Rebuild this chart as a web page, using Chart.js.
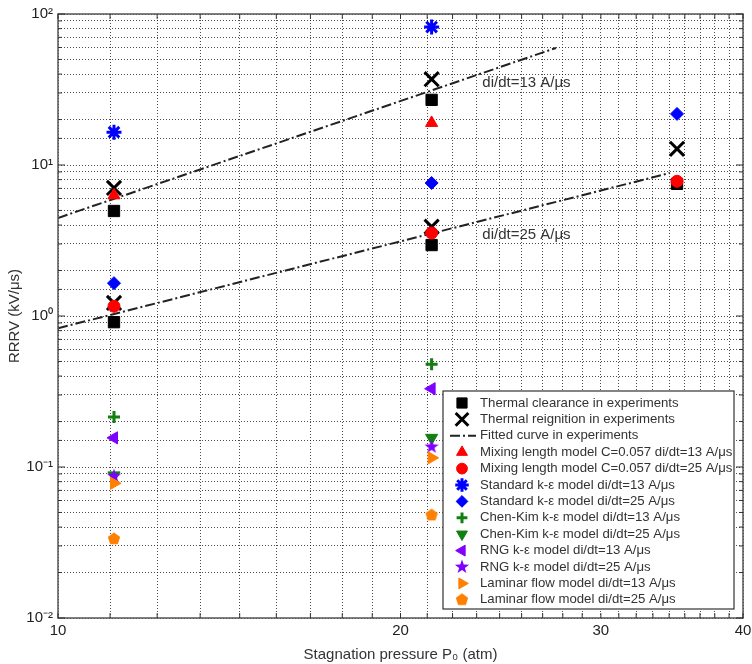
<!DOCTYPE html>
<html>
<head>
<meta charset="utf-8">
<script src="https://cdn.jsdelivr.net/npm/chart.js@4.4.0/dist/chart.umd.min.js"></script>
<style>
  html, body { margin: 0; padding: 0; background: #fff; overflow: hidden; }
  #wrap { width: 752px; height: 664px; }
</style>
</head>
<body>
<div id="wrap"><canvas id="RRRVChart"></canvas></div>
<script>
// Stagnation pressure (atm) of the three test groups
var pressure = [11.2, 21.3, 35];

// Experiments (RRRV in kV/us), null = no point
var clearance13 = [4.96, 27, null];
var clearance25 = [0.91, 2.95, 7.5];
var reignition13 = [7.05, 37, null];
var reignition25 = [1.22, 3.9, 12.8];

// Fitted curves, end points only (straight on log-log)
var fit13P = [10, 27.4];
var fit13V = [4.46, 59.6];
var fit25P = [10, 34.5];
var fit25V = [0.83, 8.85];

// Simulations
var mixing13 = [6.3, 19, null];
var mixing25 = [1.16, 3.55, 7.8];
var standard13 = [16.5, 82, null];
var standard25 = [1.65, 7.6, 21.8];
var chenKim13 = [0.214, 0.48, null];
var chenKim25 = [0.088, 0.156, null];
var rng13 = [0.156, 0.33, null];
var rng25 = [0.087, 0.136, null];
var laminar13 = [0.078, 0.115, null];
var laminar25 = [0.0334, 0.048, null];

// Tick labels
var xTickValues = [10, 20, 30, 40];
var yTickValues = [0.01, 0.1, 1, 10, 100];
var yTickText = ['10\u207B\u00B2', '10\u207B\u00B9', '10\u2070', '10\u00B9', '10\u00B2'];

// Text notes on the fitted curves
var noteText = ['di/dt=13 A/\u03BCs', 'di/dt=25 A/\u03BCs'];
var noteP = [23.6, 23.6];
var noteV = [34.9, 3.43];

var FONT = '"Liberation Sans", Arial, sans-serif';

function pts(xs, ys) {
  var out = [];
  for (var i = 0; i < xs.length; i++) {
    if (ys[i] !== null) out.push({ x: xs[i], y: ys[i] });
  }
  return out;
}

// custom marker images
function marker(size, draw) {
  var c = document.createElement('canvas');
  c.width = size; c.height = size;
  draw(c.getContext('2d'), size / 2);
  return c;
}
var star5 = marker(16, function (g, c) {
  g.fillStyle = '#7f00ff';
  g.beginPath();
  for (var i = 0; i < 10; i++) {
    var r = i % 2 ? 3 : 7.5;
    var a = -Math.PI / 2 + i * Math.PI / 5;
    g.lineTo(c + r * Math.cos(a), c + r * Math.sin(a));
  }
  g.closePath(); g.fill();
});
var pentagon = marker(16, function (g, c) {
  g.fillStyle = '#ff8000';
  g.beginPath();
  for (var i = 0; i < 5; i++) {
    var a = -Math.PI / 2 + i * 2 * Math.PI / 5;
    g.lineTo(c + 6.5 * Math.cos(a), c + 6.5 * Math.sin(a));
  }
  g.closePath(); g.fill();
});

var BLUE = '#0000ff', RED = '#ff0000', GREEN = '#108010', PURPLE = '#7f00ff', ORANGE = '#ff8000';
var FIT_DASH = [10, 3, 2, 3];

function mk(label, data, color, style, radius, extra) {
  var ds = {
    label: label,
    data: data,
    pointStyle: style,
    pointRadius: radius,
    pointBackgroundColor: color,
    pointBorderColor: color,
    pointBorderWidth: 1,
    showLine: false
  };
  for (var k in extra) ds[k] = extra[k];
  return ds;
}

var datasets = [
  mk('Thermal clearance in experiments', pts(pressure, clearance13).concat(pts(pressure, clearance25)), '#000', 'rect', 8, {}),
  mk('Thermal reignition in experiments', pts(pressure, reignition13).concat(pts(pressure, reignition25)), '#000', 'crossRot', 10, { pointBorderWidth: 3 }),
  {
    label: 'Fitted curve in experiments',
    data: pts(fit13P, fit13V),
    showLine: true, pointRadius: 0,
    borderColor: '#222', borderWidth: 2, borderDash: FIT_DASH
  },
  {
    label: 'fit25',
    data: pts(fit25P, fit25V),
    showLine: true, pointRadius: 0,
    borderColor: '#222', borderWidth: 2, borderDash: FIT_DASH
  },
  mk('Mixing length model C=0.057 di/dt=13 A/\u03BCs', pts(pressure, mixing13), RED, 'triangle', 7, {}),
  mk('Mixing length model C=0.057 di/dt=25 A/\u03BCs', pts(pressure, mixing25), RED, 'circle', 6, {}),
  mk('Standard k-\u03B5 model di/dt=13 A/\u03BCs', pts(pressure, standard13), BLUE, 'star', 7.5, { pointBorderWidth: 3 }),
  mk('Standard k-\u03B5 model di/dt=25 A/\u03BCs', pts(pressure, standard25), BLUE, 'rectRot', 6.5, {}),
  mk('Chen-Kim k-\u03B5 model di/dt=13 A/\u03BCs', pts(pressure, chenKim13), GREEN, 'cross', 6, { pointBorderWidth: 3 }),
  mk('Chen-Kim k-\u03B5 model di/dt=25 A/\u03BCs', pts(pressure, chenKim25), GREEN, 'triangle', 7, { pointRotation: 180 }),
  mk('RNG k-\u03B5 model di/dt=13 A/\u03BCs', pts(pressure, rng13), PURPLE, 'triangle', 7, { pointRotation: -90 }),
  mk('RNG k-\u03B5 model di/dt=25 A/\u03BCs', pts(pressure, rng25), PURPLE, star5, 7, {}),
  mk('Laminar flow model di/dt=13 A/\u03BCs', pts(pressure, laminar13), ORANGE, 'triangle', 7, { pointRotation: 90 }),
  mk('Laminar flow model di/dt=25 A/\u03BCs', pts(pressure, laminar25), ORANGE, pentagon, 7, {})
];
// later series on top, like the original plot
datasets.forEach(function (d, i) { d.order = datasets.length - i; });

function near(v, arr) {
  for (var i = 0; i < arr.length; i++) if (Math.abs(v - arr[i]) < 1e-6 * arr[i]) return i;
  return -1;
}

// frame, inner ticks, notes and the legend box
var frameLegend = {
  id: 'frameLegend',
  afterDraw: function (chart) {
    var ctx = chart.ctx, a = chart.chartArea;
    var xs = chart.scales.x, ys = chart.scales.y;
    ctx.save();

    // notes
    ctx.fillStyle = '#333';
    ctx.font = '15px ' + FONT;
    ctx.textAlign = 'left';
    ctx.textBaseline = 'middle';
    for (var i = 0; i < noteText.length; i++) {
      ctx.fillText(noteText[i], xs.getPixelForValue(noteP[i]), ys.getPixelForValue(noteV[i]));
    }

    // legend
    var rows = [0, 1, 2, 4, 5, 6, 7, 8, 9, 10, 11, 12, 13];
    var rowH = 16.4, lw = 291, lh = 218;
    var lx = a.right - 9 - lw, ly = a.bottom - 9 - lh;
    ctx.fillStyle = '#fff';
    ctx.fillRect(lx, ly, lw, lh);
    ctx.strokeStyle = '#333';
    ctx.lineWidth = 1.2;
    ctx.strokeRect(lx, ly, lw, lh);
    ctx.font = '13.2px ' + FONT;
    rows.forEach(function (di, r) {
      var d = datasets[di];
      var cy = ly + 12 + r * rowH;
      var cx = lx + 19;
      if (di === 2) {
        ctx.save();
        ctx.strokeStyle = '#222';
        ctx.lineWidth = 2;
        ctx.setLineDash(FIT_DASH);
        ctx.beginPath();
        ctx.moveTo(cx - 12, cy); ctx.lineTo(cx + 14, cy);
        ctx.stroke();
        ctx.restore();
      } else {
        ctx.fillStyle = d.pointBackgroundColor;
        ctx.strokeStyle = d.pointBorderColor;
        ctx.lineWidth = d.pointBorderWidth;
        Chart.helpers.drawPoint(ctx, {
          pointStyle: d.pointStyle,
          rotation: d.pointRotation || 0,
          radius: d.pointRadius * 0.9,
          borderWidth: d.pointBorderWidth
        }, cx, cy);
      }
      ctx.fillStyle = '#333';
      ctx.fillText(d.label, lx + 37, cy);
    });

    // frame
    ctx.strokeStyle = '#555';
    ctx.lineWidth = 1.5;
    ctx.strokeRect(a.left, a.top, a.width, a.height);

    // inner ticks on all four sides
    ctx.lineWidth = 1;
    ctx.strokeStyle = '#333';
    ctx.beginPath();
    xs.ticks.forEach(function (t) {
      var px = xs.getPixelForValue(t.value);
      ctx.moveTo(px, a.bottom); ctx.lineTo(px, a.bottom - 5);
      ctx.moveTo(px, a.top); ctx.lineTo(px, a.top + 5);
    });
    ys.ticks.forEach(function (t) {
      var py = ys.getPixelForValue(t.value);
      var len = near(t.value, yTickValues) >= 0 ? 7 : 4;
      ctx.moveTo(a.left, py); ctx.lineTo(a.left + len, py);
      ctx.moveTo(a.right, py); ctx.lineTo(a.right - len, py);
    });
    ctx.stroke();
    ctx.restore();
  }
};

var gridStyle = { color: 'rgba(0,0,0,0.7)', lineWidth: 1, drawTicks: false };

new Chart(document.getElementById('RRRVChart'), {
  type: 'scatter',
  data: { datasets: datasets },
  options: {
    responsive: true,
    maintainAspectRatio: false,
    animation: false,
    layout: { autoPadding: false, padding: { top: 14, right: 9, left: 0, bottom: 0 } },
    plugins: {
      legend: { display: false },
      tooltip: { enabled: false }
    },
    scales: {
      x: {
        type: 'logarithmic',
        min: 10,
        max: 40,
        afterBuildTicks: function (scale) {
          // minor grid every 10/9 atm, as in the original figure
          var t = [];
          for (var k = 0; k <= 27; k++) t.push({ value: 10 + k * 10 / 9 });
          scale.ticks = t;
        },
        afterFit: function (scale) {
          scale.height = 46;
          scale.paddingLeft = 0;
          scale.paddingRight = 0;
        },
        ticks: {
          autoSkip: false,
          maxRotation: 0,
          padding: 4,
          color: '#222',
          font: { family: FONT, size: 15 },
          callback: function (v) {
            var i = near(v, xTickValues);
            return i >= 0 ? String(xTickValues[i]) : '';
          }
        },
        grid: gridStyle,
        border: { display: false, dash: [1, 2] },
        title: {
          display: true,
          text: 'Stagnation pressure P\u2080 (atm)',
          color: '#333',
          font: { family: FONT, size: 15 },
          padding: { top: 2, bottom: 0 }
        }
      },
      y: {
        type: 'logarithmic',
        min: 0.01,
        max: 100,
        afterFit: function (scale) { scale.width = 58; },
        ticks: {
          autoSkip: false,
          padding: 5,
          color: '#222',
          font: { family: FONT, size: 15 },
          callback: function (v) {
            var i = near(v, yTickValues);
            return i >= 0 ? yTickText[i] : '';
          }
        },
        grid: gridStyle,
        border: { display: false, dash: [1, 2] },
        title: {
          display: true,
          text: 'RRRV (kV/\u03BCs)',
          color: '#333',
          font: { family: FONT, size: 15 },
          padding: { top: 6, bottom: 0 }
        }
      }
    }
  },
  plugins: [frameLegend]
});
</script>
</body>
</html>
